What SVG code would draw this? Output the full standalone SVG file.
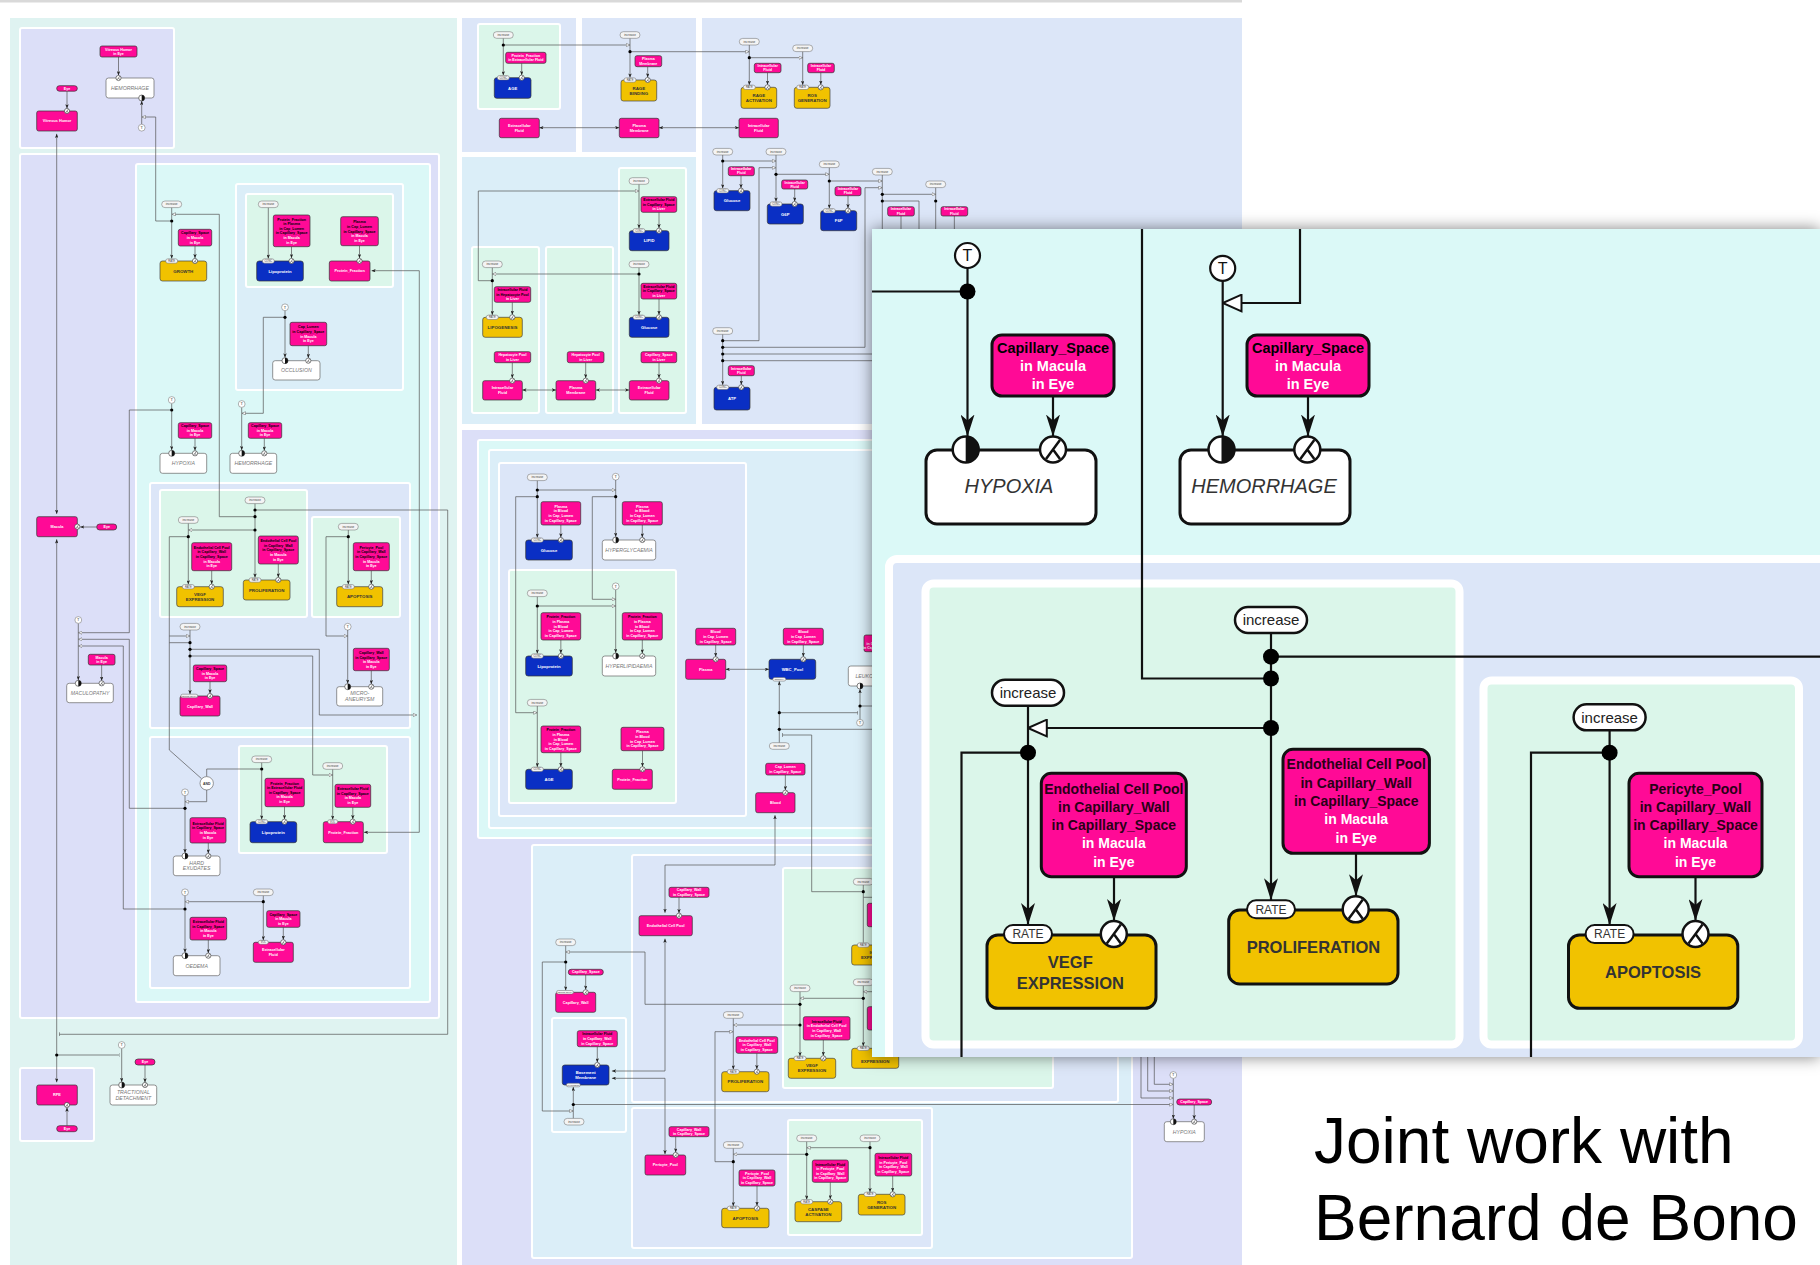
<svg xmlns="http://www.w3.org/2000/svg" width="1820" height="1265" viewBox="0 0 1820 1265">
<defs>
<style>
text{font-family:'Liberation Sans',Arial,Helvetica,sans-serif}
.pn{stroke:#fff;stroke-width:2}
.teal{fill:#dff3f1}.lav{fill:#dcdff8}.blu{fill:#dce6f8}.cya{fill:#dbf8f7}.lbl{fill:#dbeef8}.grn{fill:#dbf6ea}
.pk{fill:#ff0a96;stroke:#333;stroke-width:.7}
.bl{fill:#0a2fc4;stroke:#333;stroke-width:.7}
.gd{fill:#f1c200;stroke:#444;stroke-width:.7}
.wt{fill:#fff;stroke:#666;stroke-width:.7}
.c{fill:none;stroke:#555;stroke-width:.7}
.a{marker-end:url(#a)}.o{marker-end:url(#o)}.b{marker-end:url(#b)}.d{marker-start:url(#a);marker-end:url(#a)}
.tw{font-size:3.6px;font-weight:bold;fill:#fff;text-anchor:middle}
.k{fill:#000}
.tc{font-size:3.8px;font-weight:bold;fill:#fff;text-anchor:middle}
.tb{font-size:4.2px;font-weight:bold;fill:#fff;text-anchor:middle}
.tg{font-size:4.4px;font-weight:bold;fill:#333;text-anchor:middle}
.tp{font-size:5.2px;font-style:italic;fill:#777;text-anchor:middle}
.pl{fill:#f4f4f4;stroke:#666;stroke-width:.5}
.tpl{font-size:3.1px;fill:#444;text-anchor:middle}
.tpr{font-size:2.6px;fill:#444;text-anchor:middle}
.tpq{font-size:2.1px;fill:#444;text-anchor:middle}
.tpt{font-size:4px;fill:#333;text-anchor:middle}
.tand{font-size:3.4px;font-weight:bold;fill:#333;text-anchor:middle}
.il{fill:none;stroke:#111;stroke-width:2.2}
.iA{marker-end:url(#A)}.iO{marker-end:url(#O)}
.ipk{fill:#ff0a96;stroke:#111;stroke-width:3}
.igd{fill:#f1c200;stroke:#111;stroke-width:3}
.iwt{fill:#fff;stroke:#111;stroke-width:3}
.itw{font-size:14.5px;font-weight:bold;fill:#fff;text-anchor:middle}
.itn{font-size:14px;font-weight:bold;fill:#fff;text-anchor:middle}
.ik{fill:#000}
.idk{fill:#2a0016}
.itg{font-size:16.5px;font-weight:bold;fill:#333;text-anchor:middle}
.itph{font-size:20px;font-style:italic;fill:#333;text-anchor:middle}
.itp{font-size:15px;fill:#222;text-anchor:middle}
.itr{font-size:12px;fill:#333;text-anchor:middle}
.itt{font-size:16px;fill:#111;text-anchor:middle}
</style>
<marker id="a" viewBox="0 0 6 5" refX="6" refY="2.5" markerWidth="4.2" markerHeight="3.5" markerUnits="userSpaceOnUse" orient="auto-start-reverse"><path d="M0,0L6,2.5L0,5L1.6,2.5z" fill="#222"/></marker>
<marker id="o" viewBox="0 0 7 7" refX="6.6" refY="3.5" markerWidth="4" markerHeight="4" markerUnits="userSpaceOnUse" orient="auto"><path d="M.5,.6L6.6,3.5L.5,6.4z" fill="#fff" stroke="#555" stroke-width=".8"/></marker>
<marker id="b" viewBox="0 0 2 8" refX="1" refY="4" markerWidth="1" markerHeight="4" markerUnits="userSpaceOnUse" orient="auto"><path d="M1,0V8" stroke="#555" stroke-width="1.2"/></marker>
<marker id="A" viewBox="0 0 22 14" refX="22" refY="7" markerWidth="22" markerHeight="14" markerUnits="userSpaceOnUse" orient="auto"><path d="M0,0L22,7L0,14L6,7z" fill="#111"/></marker>
<marker id="O" viewBox="0 0 21 19" refX="20" refY="9.5" markerWidth="21" markerHeight="19" markerUnits="userSpaceOnUse" orient="auto"><path d="M1.2,1.2L20,9.5L1.2,17.8z" fill="#fff" stroke="#111" stroke-width="2"/></marker>
<g id="xs"><circle r="2.6" fill="#fff" stroke="#333" stroke-width=".6"/><path d="M1.4,-1.9L-1.4,1.9M0,0L1.4,1.9" fill="none" stroke="#333" stroke-width=".55"/></g>
<g id="hs"><circle r="3" fill="#fff" stroke="#333" stroke-width=".6"/><path d="M0,-3A3,3 0 0 1 0,3z" fill="#111"/></g>
<g id="ts"><circle r="3.4" fill="#fff" stroke="#666" stroke-width=".5"/><text y="1.4" class="tpt">T</text></g>
<g id="inc"><rect x="-10" y="-3.3" width="20" height="6.6" rx="3.3" class="pl"/><text y="1.1" class="tpl">increase</text></g>
<g id="rate"><rect x="-6" y="-2.2" width="12" height="4.4" rx="2.2" class="pl"/><text y=".9" class="tpr">RATE</text></g>
<g id="conc"><rect x="-6" y="-2.2" width="12" height="4.4" rx="2.2" class="pl"/><text y=".9" class="tpr">CONC</text></g>
<g id="vol"><rect x="-5" y="-2" width="10" height="4" rx="2" class="pl"/><text y=".9" class="tpr">VOL</text></g>
<g id="perm"><rect x="-8.5" y="-1.8" width="17" height="3.6" rx="1.8" class="pl"/><text y=".8" class="tpq">PERMEABILITY</text></g>
<g id="dens"><rect x="-6.5" y="-1.8" width="13" height="3.6" rx="1.8" class="pl"/><text y=".8" class="tpq">DENSITY</text></g>
<g id="thick"><rect x="-7" y="-1.8" width="14" height="3.6" rx="1.8" class="pl"/><text y=".8" class="tpq">THICKNESS</text></g>
<g id="xl"><circle r="13" fill="#fff" stroke="#111" stroke-width="2.5"/><path d="M7,-9.5L-7,9.5M0,0L7,9.5" fill="none" stroke="#111" stroke-width="2.5"/></g>
<g id="hl"><circle r="13" fill="#fff" stroke="#111" stroke-width="2.5"/><path d="M0,-13A13,13 0 0 1 0,13z" fill="#111"/></g>
<g id="tl"><circle r="12.5" fill="#fff" stroke="#111" stroke-width="2.2"/><text y="5.6" class="itt">T</text></g>
<g id="incl"><rect x="-36" y="-13" width="72" height="26" rx="13" fill="#fff" stroke="#111" stroke-width="2.5"/><text y="5.2" class="itp">increase</text></g>
<g id="ratel"><rect x="-24" y="-9" width="48" height="18" rx="9" fill="#fff" stroke="#111" stroke-width="2"/><text y="4.3" class="itr">RATE</text></g>
<filter id="sh" x="-4%" y="-5%" width="108%" height="110%"><feDropShadow dx="0" dy="0" stdDeviation="8" flood-color="#000" flood-opacity=".5"/></filter>
<clipPath id="ic"><rect x="872" y="229" width="948" height="828"/></clipPath>
</defs>

<rect width="1820" height="1265" fill="#fff"/>
<rect x="0" y="0" width="1242" height="2.5" fill="#d9d9d9"/>

<!-- compartments of the large map -->
<g id="panels" class="pn">
<rect class="teal" x="10" y="18" width="447" height="1250" stroke="none"/>
<rect class="lav" x="20" y="28" width="154" height="120" rx="2"/>
<rect class="lav" x="20" y="154" width="419" height="864" rx="2"/>
<rect class="cya" x="136" y="164" width="294" height="838" rx="2"/>
<rect class="lbl" x="236" y="184" width="167" height="206" rx="2"/>
<rect class="grn" x="246" y="194" width="147" height="93" rx="2"/>
<rect class="blu" x="150" y="483" width="260" height="245" rx="2"/>
<rect class="grn" x="160" y="490" width="147" height="127" rx="2"/>
<rect class="grn" x="312" y="517" width="88" height="100" rx="2"/>
<rect class="blu" x="150" y="737" width="260" height="251" rx="2"/>
<rect class="grn" x="239" y="746" width="148" height="107" rx="2"/>
<rect class="lav" x="20" y="1068" width="74" height="73" rx="2"/>
<rect class="blu" x="462" y="18" width="114" height="134" stroke="none"/>
<rect class="grn" x="478" y="24" width="82" height="85" rx="2"/>
<rect class="blu" x="582" y="18" width="114" height="134" stroke="none"/>
<rect class="blu" x="702" y="18" width="540" height="406" stroke="none"/>
<rect class="lbl" x="462" y="157" width="234" height="267" stroke="none"/>
<rect class="grn" x="472" y="247" width="67" height="166" rx="2"/>
<rect class="grn" x="546" y="247" width="67" height="166" rx="2"/>
<rect class="grn" x="619" y="168" width="67" height="245" rx="2"/>
<rect class="lav" x="462" y="430" width="780" height="838" stroke="none"/>
<rect class="cya" x="478" y="440" width="754" height="398" rx="2"/>
<rect class="lbl" x="489" y="450" width="733" height="378" rx="2"/>
<rect class="blu" x="499" y="463" width="247" height="353" rx="2"/>
<rect class="grn" x="509" y="570" width="167" height="233" rx="2"/>
<rect class="lbl" x="532" y="845" width="600" height="413" rx="2"/>
<rect class="blu" x="632" y="855" width="486" height="247" rx="2"/>
<rect class="grn" x="783" y="868" width="270" height="220" rx="2"/>
<rect class="blu" x="632" y="1108" width="300" height="140" rx="2"/>
<rect class="grn" x="788" y="1120" width="134" height="115" rx="2"/>
<rect class="lbl" x="552" y="1018" width="74" height="114" rx="2"/>
</g>

<g id="connectors">
<path class="c a" d="M67,91.2V108.4"/>
<path class="c a" d="M118.5,57V75.4"/>
<path class="c a" d="M141.7,124.1V101"/>
<path class="c o" d="M171.7,221H155.7V117H142"/>
<path class="c d" d="M56.7,133.8V513.9"/>
<path class="c d" d="M56.7,539.3V1082.3"/>
<path class="c b" d="M56.7,1055H119"/>
<path class="c a" d="M96.7,527H80.2"/>
<path class="c a" d="M171.7,207.6V258.6"/>
<path class="c o" d="M255,516.7H219.3V214.3H172"/>
<path class="c a" d="M195,246V258.2"/>
<path class="c a" d="M268.3,207.6V258.6"/>
<path class="c a" d="M291.5,246.7V258.2"/>
<path class="c a" d="M359.5,245.7V258.2"/>
<path class="c d" d="M371.5,270.7H419.3V832.3H364"/>
<path class="c a" d="M285,310.7V357.5"/>
<path class="c o" d="M285,317.3H263.3V413.3H242"/>
<path class="c a" d="M308.3,345.7V357.9"/>
<path class="c a" d="M171.7,403.4V450.1"/>
<path class="c o" d="M171.7,410H129.3V632.7H78.6"/>
<path class="c a" d="M195,438.3V450.6"/>
<path class="c a" d="M241.7,407.4V450.1"/>
<path class="c a" d="M264.3,438.3V450.6"/>
<path class="c a" d="M255,503.6V577.6"/>
<path class="c b" d="M255,510H447.7V1034.3H59.5"/>
<path class="c o" d="M255,530H188.6"/>
<path class="c a" d="M188.3,523.3V584.3"/>
<path class="c" d="M188.3,536.7H169.3V750L201.7,778.8"/>
<path class="c o" d="M169.3,636H189.8"/>
<path class="c" d="M169.3,642.7H190"/>
<path class="c a" d="M211.7,570.7V584.1"/>
<path class="c a" d="M278.3,564V577.4"/>
<path class="c a" d="M348.3,530V584.3"/>
<path class="c o" d="M348.3,536.7H326V636H347.5"/>
<path class="c a" d="M371.3,570.7V584.1"/>
<path class="c a" d="M190,630V694.2"/>
<path class="c o" d="M190,649.3H319.3V715H416.7"/>
<path class="c o" d="M190,656H312.7V775H332.5"/>
<path class="c a" d="M210,681.7V693.4"/>
<path class="c a" d="M347.7,630V683.6"/>
<path class="c a" d="M371.3,670.7V684.1"/>
<path class="c a" d="M78.3,623.3V680.2"/>
<path class="c o" d="M185,808.3H129.3V639.3H78.6"/>
<path class="c o" d="M185,909H123.3V646H78.6"/>
<path class="c a" d="M101.65,665V680.7"/>
<path class="c" d="M206.7,776.6V769H261.7"/>
<path class="c o" d="M206.7,790V801.7H185.2"/>
<path class="c a" d="M261.7,762.6V819.4"/>
<path class="c a" d="M284.5,806.7V819.1"/>
<path class="c a" d="M332.7,769.3V819.6"/>
<path class="c a" d="M352.8,807.3V819.1"/>
<path class="c a" d="M185,795.6V852.9"/>
<path class="c a" d="M208.3,843V853.4"/>
<path class="c a" d="M185,895.6V952.6"/>
<path class="c o" d="M263.3,901.7H185.2"/>
<path class="c a" d="M263.3,895.6V940.2"/>
<path class="c a" d="M208.3,940V953.1"/>
<path class="c a" d="M283.3,927.3V939.7"/>
<path class="c a" d="M121.7,1048.3V1081.9"/>
<path class="c a" d="M145,1065V1082.4"/>
<path class="c a" d="M67,1125.7V1107.6"/>
<path class="c a" d="M503.3,38.3V75.3"/>
<path class="c o" d="M503.3,45H629.8"/>
<path class="c a" d="M521.7,63.3V75.1"/>
<path class="c a" d="M630,38.3V77.6"/>
<path class="c o" d="M630,51.7H749.1"/>
<path class="c a" d="M647.7,66.7V77.4"/>
<path class="c d" d="M539.3,127.7H619.3"/>
<path class="c d" d="M659,127.7H739"/>
<path class="c a" d="M749.3,45V84.9"/>
<path class="c o" d="M749.3,57.7H802.5"/>
<path class="c a" d="M767.5,72.7V84.7"/>
<path class="c a" d="M802.7,51.6V84.9"/>
<path class="c a" d="M820.8,72.7V84.7"/>
<path class="c a" d="M639,184.3V228.3"/>
<path class="c o" d="M492.3,280.7H478.3V191H638.8"/>
<path class="c a" d="M659,212.3V228.1"/>
<path class="c a" d="M639,267.6V314.9"/>
<path class="c o" d="M639,274H492.5"/>
<path class="c a" d="M492.3,267.6V314.9"/>
<path class="c a" d="M659,299V314.7"/>
<path class="c a" d="M512.3,302.3V314.7"/>
<path class="c a" d="M512.3,362.7V378.1"/>
<path class="c a" d="M585.7,362.7V378.1"/>
<path class="c a" d="M659,362.7V378.1"/>
<path class="c d" d="M522.3,390H556"/>
<path class="c d" d="M595.7,390H629.3"/>
<path class="c a" d="M722.7,155V188.3"/>
<path class="c o" d="M722.7,161H775.8"/>
<path class="c a" d="M741,175.7V188.1"/>
<path class="c a" d="M776,155V201.6"/>
<path class="c o" d="M722.7,340.7H759V167.7H775.8"/>
<path class="c o" d="M776,174.3H829.1"/>
<path class="c a" d="M794.7,189V201.4"/>
<path class="c a" d="M829.3,167.6V208.3"/>
<path class="c o" d="M829.3,181H882.1"/>
<path class="c a" d="M848,195.7V208.1"/>
<path class="c o" d="M722.7,347.3H865V187.7H882.1"/>
<path class="c" d="M882.3,175V235"/>
<path class="c o" d="M882.3,194.3H935.5"/>
<path class="c" d="M882.3,201H919V235"/>
<path class="c" d="M935.7,187.6V235M901,216V235M954.35,216V235"/>
<path class="c a" d="M722.7,334.3V384.9"/>
<path class="c" d="M722.7,354H880M722.7,360.7H880"/>
<path class="c a" d="M741.3,375.7V384.7"/>
<path class="c a" d="M537.3,480.6V537.6"/>
<path class="c o" d="M537.3,490H615.5"/>
<path class="c o" d="M537.3,496.7H515.7V712.7H537.1"/>
<path class="c a" d="M560.85,525V537.4"/>
<path class="c a" d="M615.7,480V536.8"/>
<path class="c o" d="M615.7,496.7H592.3V599.3H615.5"/>
<path class="c a" d="M642.3,525V537.4"/>
<path class="c a" d="M537.3,596.6V653.6"/>
<path class="c o" d="M537.3,606H615.5"/>
<path class="c a" d="M615.7,589.6V652.8"/>
<path class="c a" d="M560.85,640V653.4"/>
<path class="c a" d="M642.3,640V653.4"/>
<path class="c a" d="M537.3,706V766.9"/>
<path class="c a" d="M560.85,752.7V766.7"/>
<path class="c a" d="M642.5,750.7V766.7"/>
<path class="c a" d="M715.7,645V656.7"/>
<path class="c d" d="M725.7,669.3H769"/>
<path class="c a" d="M803.3,645V656.7"/>
<path class="c a" d="M779.3,742.7V681.3"/>
<path class="c b" d="M779.3,712.7H857.7"/>
<path class="c" d="M779.3,729.3H880"/>
<path class="c b" d="M863.3,891.7H811.7V735H782.5"/>
<path class="c a" d="M860,719.4V689.2"/>
<path class="c" d="M860,706H880"/>
<path class="c a" d="M785.35,775V790.1"/>
<path class="c d" d="M775,815.2V865H665V912.8"/>
<path class="c a" d="M679,897.3V913.1"/>
<path class="c d" d="M611.9,1071H665V938.6"/>
<path class="c a" d="M565.7,945.6V990.4"/>
<path class="c o" d="M800,1004.3H645V952H565.9"/>
<path class="c o" d="M565.7,962H542.3V1111H573.1"/>
<path class="c a" d="M585.7,975V989.6"/>
<path class="c a" d="M597.3,1046.7V1062.3"/>
<path class="c a" d="M573.3,1118.4V1087"/>
<path class="c o" d="M573.3,1104.5H1173.1"/>
<path class="c d" d="M611.9,1078.3H665V1154.2"/>
<path class="c a" d="M675.7,1136.7V1152.3"/>
<path class="c a" d="M733.3,1018.3V1069.4"/>
<path class="c o" d="M800,1025H733.5"/>
<path class="c o" d="M733.3,1161.7H715V1031.7H733.1"/>
<path class="c a" d="M756.85,1053.3V1069.1"/>
<path class="c a" d="M800,991.6V1056.1"/>
<path class="c o" d="M863.3,998.3H800.2"/>
<path class="c a" d="M823.3,1040V1055.7"/>
<path class="c a" d="M863.3,885V942.8M863.3,985.6V1046.1"/>
<path class="c o" d="M880,897.3H863.5M880,991.7H863.5"/>
<path class="c a" d="M733.3,1148.3V1206.1"/>
<path class="c o" d="M806.7,1154.3H733.5"/>
<path class="c a" d="M757,1186V1205.7"/>
<path class="c a" d="M806.7,1141.6V1199.5"/>
<path class="c o" d="M870,1147.7H806.9"/>
<path class="c a" d="M830.3,1182.3V1199.1"/>
<path class="c a" d="M870,1141.6V1192.1"/>
<path class="c a" d="M892.7,1176V1191.7"/>
<path class="c a" d="M1173.3,1078.3V1118.7"/>
<path class="c o" d="M1154.3,1050V1084.3H1173.1"/>
<path class="c o" d="M1147.7,1050V1091H1173.1"/>
<path class="c o" d="M1141,1050V1098H1173.1"/>
<path class="c a" d="M1194.2,1105V1119.1"/>
</g>

<!-- junction points -->
<g id="junctions" fill="#000">
<circle cx="171.7" cy="221" r="1.6"/><circle cx="255" cy="510" r="1.6"/><circle cx="255" cy="516.7" r="1.6"/><circle cx="255" cy="530" r="1.6"/>
<circle cx="188.3" cy="536.7" r="1.6"/><circle cx="348.3" cy="536.7" r="1.6"/><circle cx="190" cy="642.7" r="1.6"/><circle cx="190" cy="649.3" r="1.6"/>
<circle cx="190" cy="656" r="1.6"/><circle cx="285" cy="317.3" r="1.6"/><circle cx="171.7" cy="410" r="1.6"/><circle cx="261.7" cy="769" r="1.6"/>
<circle cx="185" cy="808.3" r="1.6"/><circle cx="185" cy="909" r="1.6"/><circle cx="263.3" cy="901.7" r="1.6"/><circle cx="56.7" cy="1055" r="1.6"/>
<circle cx="503.3" cy="45" r="1.6"/><circle cx="630" cy="51.7" r="1.6"/><circle cx="749.3" cy="57.7" r="1.6"/><circle cx="639" cy="274" r="1.6"/>
<circle cx="492.3" cy="280.7" r="1.6"/><circle cx="722.7" cy="161" r="1.6"/><circle cx="776" cy="174.3" r="1.6"/><circle cx="829.3" cy="181" r="1.6"/>
<circle cx="882.3" cy="194.3" r="1.6"/><circle cx="882.3" cy="201" r="1.6"/><circle cx="935.7" cy="201" r="1.6"/><circle cx="722.7" cy="340.7" r="1.6"/>
<circle cx="722.7" cy="347.3" r="1.6"/><circle cx="722.7" cy="354" r="1.6"/><circle cx="722.7" cy="360.7" r="1.6"/><circle cx="537.3" cy="490" r="1.6"/>
<circle cx="537.3" cy="496.7" r="1.6"/><circle cx="615.7" cy="496.7" r="1.6"/><circle cx="537.3" cy="606" r="1.6"/><circle cx="779.3" cy="712.7" r="1.6"/>
<circle cx="779.3" cy="729.3" r="1.6"/><circle cx="860" cy="706" r="1.6"/><circle cx="565.7" cy="962" r="1.6"/><circle cx="573.3" cy="1104.5" r="1.6"/>
<circle cx="800" cy="1004.3" r="1.6"/><circle cx="800" cy="1025" r="1.6"/><circle cx="863.3" cy="891.7" r="1.6"/><circle cx="863.3" cy="998.3" r="1.6"/>
<circle cx="733.3" cy="1161.7" r="1.6"/><circle cx="806.7" cy="1154.3" r="1.6"/><circle cx="870" cy="1147.7" r="1.6"/>
</g>

<!-- modulator tags -->
<g id="modifiers">
<use id="t1" href="#ts" x="141.7" y="127.7"/><use id="t2" href="#ts" x="285" y="307.3"/><use id="t3" href="#ts" x="171.7" y="400"/><use id="t4" href="#ts" x="241.7" y="404"/>
<use id="t5" href="#ts" x="347.7" y="626.7"/><use id="t6" href="#ts" x="78.3" y="620"/><use id="t7" href="#ts" x="185" y="792.3"/><use id="t8" href="#ts" x="185" y="892.3"/>
<use id="t9" href="#ts" x="121.7" y="1045"/><use id="t10" href="#ts" x="615.7" y="476.7"/><use id="t11" href="#ts" x="615.7" y="586.3"/><use id="t12" href="#ts" x="860" y="722.7"/>
<use id="t13" href="#ts" x="1173.3" y="1075"/>
<use id="i1" href="#inc" x="171.7" y="204.3"/><use id="i2" href="#inc" x="268.3" y="204.3"/><use id="i3" href="#inc" x="255" y="500.3"/><use id="i4" href="#inc" x="188.3" y="520"/>
<use id="i5" href="#inc" x="348.3" y="526.7"/><use id="i6" href="#inc" x="190" y="626.7"/><use id="i7" href="#inc" x="261.7" y="759.3"/><use id="i8" href="#inc" x="332.7" y="766"/>
<use id="i9" href="#inc" x="263.3" y="892.3"/><use id="i10" href="#inc" x="503.3" y="35"/><use id="i11" href="#inc" x="630" y="35"/><use id="i12" href="#inc" x="749.3" y="41.7"/>
<use id="i13" href="#inc" x="802.7" y="48.3"/><use id="i14" href="#inc" x="639" y="181"/><use id="i15" href="#inc" x="639" y="264.3"/><use id="i16" href="#inc" x="492.3" y="264.3"/>
<use id="i17" href="#inc" x="722.7" y="151.7"/><use id="i18" href="#inc" x="776" y="151.7"/><use id="i19" href="#inc" x="829.3" y="164.3"/><use id="i20" href="#inc" x="882.3" y="171.7"/>
<use id="i21" href="#inc" x="935.7" y="184.3"/><use id="i22" href="#inc" x="722.7" y="331"/><use id="i23" href="#inc" x="537.3" y="477.3"/><use id="i24" href="#inc" x="537.3" y="593.3"/>
<use id="i25" href="#inc" x="537.3" y="702.7"/><use id="i26" href="#inc" x="779.3" y="746"/><use id="i27" href="#inc" x="565.7" y="942.3"/><use id="i28" href="#inc" x="574" y="1121.7"/>
<use id="i29" href="#inc" x="733.3" y="1015"/><use id="i30" href="#inc" x="800" y="988.3"/><use id="i31" href="#inc" x="863.3" y="881.7"/><use id="i32" href="#inc" x="863.3" y="982.3"/>
<use id="i33" href="#inc" x="733.3" y="1145"/><use id="i34" href="#inc" x="806.7" y="1138.3"/><use id="i35" href="#inc" x="870" y="1138.3"/>
<g id="n-and"><circle cx="206.7" cy="783.3" r="6.7" fill="#fff" stroke="#555" stroke-width=".6"/><text class="tand" x="206.7" y="784.6">AND</text></g>
</g>

<!-- eye / vitreous -->
<g id="n-vitreous-eye"><rect class="pk" x="100" y="46" width="37" height="11" rx="2"/><text class="tw" x="118.5" y="50.5">Vitreous Humor<tspan x="118.5" dy="4.6">in Eye</tspan></text></g>
<g id="n-hemorrhage-vh"><rect class="wt" x="106" y="78" width="48" height="20" rx="2.5"/><text class="tp" x="130" y="89.8">HEMORRHAGE</text><use href="#xs" x="118.5" y="78"/><use href="#hs" x="141.7" y="98"/></g>
<g id="n-eye-1"><rect class="pk" x="56.7" y="85.7" width="20.6" height="5.5" rx="2.7"/><text class="tw" x="67" y="89.6">Eye</text></g>
<g id="n-vitreous"><rect class="pk" x="36.7" y="111" width="40.6" height="20" rx="2"/><text class="tc" x="57" y="122.3">Vitreous Humor</text><use href="#xs" x="67" y="111"/></g>
<g id="n-growth"><rect class="gd" x="160" y="261" width="46.7" height="20" rx="2.5"/><text class="tg" x="183.3" y="272.5">GROWTH</text><use href="#rate" x="171.7" y="261"/><use href="#xs" x="195" y="261"/></g>
<g id="n-cs-1"><rect class="pk" x="178.3" y="229.3" width="33.4" height="16.7" rx="2"/><text class="tw" x="195" y="234.3"><tspan class="k">Capillary_Space</tspan><tspan x="195" dy="4.6">in Macula</tspan><tspan x="195" dy="4.6">in Eye</tspan></text></g>
<g id="n-pf-plasma"><rect class="pk" x="273.3" y="215" width="36.7" height="31.7" rx="2"/><text class="tw" x="291.65" y="220.6"><tspan class="k">Protein_Fraction</tspan><tspan class="k" x="291.65" dy="4.6">in Plasma</tspan><tspan class="k" x="291.65" dy="4.6">in Cap_Lumen</tspan><tspan class="k" x="291.65" dy="4.6">in Capillary_Space</tspan><tspan x="291.65" dy="4.6">in Macula</tspan><tspan x="291.65" dy="4.6">in Eye</tspan></text></g>
<g id="n-lipoprotein-1"><rect class="bl" x="256.7" y="261" width="46.6" height="20" rx="2.5"/><text class="tb" x="280" y="272.5">Lipoprotein</text><use href="#conc" x="268.3" y="261"/><use href="#xs" x="291.5" y="261"/></g>
<g id="n-plasma-mac"><rect class="pk" x="340.7" y="216.7" width="37.6" height="29" rx="2"/><text class="tw" x="359.5" y="223.3"><tspan class="k">Plasma</tspan><tspan class="k" x="359.5" dy="4.6">in Cap_Lumen</tspan><tspan class="k" x="359.5" dy="4.6">in Capillary_Space</tspan><tspan x="359.5" dy="4.6">in Macula</tspan><tspan x="359.5" dy="4.6">in Eye</tspan></text></g>
<g id="n-pf-1"><rect class="pk" x="329.3" y="261" width="40.7" height="20" rx="2"/><text class="tc" x="349.65" y="272.3">Protein_Fraction</text><use href="#xs" x="359.5" y="261"/></g>
<g id="n-caplumen"><rect class="pk" x="290" y="322.3" width="36.7" height="23.4" rx="2"/><text class="tw" x="308.35" y="328.4"><tspan class="k">Cap_Lumen</tspan><tspan class="k" x="308.35" dy="4.6">in Capillary_Space</tspan><tspan x="308.35" dy="4.6">in Macula</tspan><tspan x="308.35" dy="4.6">in Eye</tspan></text></g>
<g id="n-occlusion"><rect class="wt" x="272.7" y="360.7" width="47.3" height="19.3" rx="2.5"/><text class="tp" x="296.35" y="372.2">OCCLUSION</text><use href="#hs" x="285" y="360.7"/><use href="#xs" x="308.3" y="360.7"/></g>
<g id="n-cs-2"><rect class="pk" x="178.3" y="422.7" width="33.4" height="15.6" rx="2"/><text class="tw" x="195" y="427.2"><tspan class="k">Capillary_Space</tspan><tspan x="195" dy="4.6">in Macula</tspan><tspan x="195" dy="4.6">in Eye</tspan></text></g>
<g id="n-hypoxia"><rect class="wt" x="160" y="453.3" width="46.7" height="20" rx="2.5"/><text class="tp" x="183.35" y="465.1">HYPOXIA</text><use href="#hs" x="171.7" y="453.3"/><use href="#xs" x="195" y="453.3"/></g>
<g id="n-cs-3"><rect class="pk" x="248.3" y="422.7" width="33.4" height="15.6" rx="2"/><text class="tw" x="265" y="427.2"><tspan class="k">Capillary_Space</tspan><tspan x="265" dy="4.6">in Macula</tspan><tspan x="265" dy="4.6">in Eye</tspan></text></g>
<g id="n-hemorrhage"><rect class="wt" x="230" y="453.3" width="46.7" height="20" rx="2.5"/><text class="tp" x="253.35" y="465.1">HEMORRHAGE</text><use href="#hs" x="241.7" y="453.3"/><use href="#xs" x="264.3" y="453.3"/></g>
<g id="n-macula"><rect class="pk" x="36.7" y="516.7" width="40.6" height="20" rx="2"/><text class="tc" x="57" y="528">Macula</text><use href="#xs" x="77.3" y="526.7"/></g>
<g id="n-eye-2"><rect class="pk" x="96.7" y="524" width="20" height="6" rx="3"/><text class="tw" x="106.7" y="528.1">Eye</text></g>
<g id="n-endo-1"><rect class="pk" x="191.7" y="542.7" width="40" height="28" rx="2"/><text class="tw" x="211.7" y="548.8"><tspan class="k">Endothelial Cell Pool</tspan><tspan class="k" x="211.7" dy="4.6">in Capillary_Wall</tspan><tspan class="k" x="211.7" dy="4.6">in Capillary_Space</tspan><tspan x="211.7" dy="4.6">in Macula</tspan><tspan x="211.7" dy="4.6">in Eye</tspan></text></g>
<g id="n-vegf-1"><rect class="gd" x="176.7" y="586.7" width="46.6" height="20" rx="2.5"/><text class="tg" x="200" y="595.7">VEGF<tspan x="200" dy="5">EXPRESSION</tspan></text><use href="#rate" x="188.3" y="586.7"/><use href="#xs" x="211.7" y="586.7"/></g>
<g id="n-endo-2"><rect class="pk" x="258.3" y="536" width="40" height="28" rx="2"/><text class="tw" x="278.3" y="542.1"><tspan class="k">Endothelial Cell Pool</tspan><tspan class="k" x="278.3" dy="4.6">in Capillary_Wall</tspan><tspan class="k" x="278.3" dy="4.6">in Capillary_Space</tspan><tspan x="278.3" dy="4.6">in Macula</tspan><tspan x="278.3" dy="4.6">in Eye</tspan></text></g>
<g id="n-prolif-1"><rect class="gd" x="243.3" y="580" width="46.7" height="20" rx="2.5"/><text class="tg" x="266.65" y="591.5">PROLIFERATION</text><use href="#rate" x="255" y="580"/><use href="#xs" x="278.3" y="580"/></g>
<g id="n-pericyte-1"><rect class="pk" x="353.3" y="542.7" width="36" height="28" rx="2"/><text class="tw" x="371.3" y="548.8"><tspan class="k">Pericyte_Pool</tspan><tspan class="k" x="371.3" dy="4.6">in Capillary_Wall</tspan><tspan class="k" x="371.3" dy="4.6">in Capillary_Space</tspan><tspan x="371.3" dy="4.6">in Macula</tspan><tspan x="371.3" dy="4.6">in Eye</tspan></text></g>
<g id="n-apop-1"><rect class="gd" x="336.7" y="586.7" width="46" height="20" rx="2.5"/><text class="tg" x="359.7" y="598.2">APOPTOSIS</text><use href="#rate" x="348.3" y="586.7"/><use href="#xs" x="371.3" y="586.7"/></g>
<g id="n-cs-4"><rect class="pk" x="193.3" y="665" width="33.4" height="16.7" rx="2"/><text class="tw" x="210" y="670"><tspan class="k">Capillary_Space</tspan><tspan x="210" dy="4.6">in Macula</tspan><tspan x="210" dy="4.6">in Eye</tspan></text></g>
<g id="n-capwall-1"><rect class="pk" x="180" y="696" width="40" height="20" rx="2"/><text class="tc" x="200" y="707.5">Capillary_Wall</text><use href="#perm" x="189.3" y="696"/><use href="#xs" x="210" y="696"/></g>
<g id="n-cw-cs"><rect class="pk" x="353.3" y="648.3" width="36" height="22.4" rx="2"/><text class="tw" x="371.3" y="653.9"><tspan class="k">Capillary_Wall</tspan><tspan class="k" x="371.3" dy="4.6">in Capillary_Space</tspan><tspan x="371.3" dy="4.6">in Macula</tspan><tspan x="371.3" dy="4.6">in Eye</tspan></text></g>
<g id="n-microaneurysm"><rect class="wt" x="336.7" y="686.7" width="46" height="19.3" rx="2.5"/><text class="tp" x="359.7" y="695.4">MICRO-<tspan x="359.7" dy="5.5">ANEURYSM</tspan></text><use href="#hs" x="347.7" y="686.7"/><use href="#xs" x="371.3" y="686.7"/></g>
<g id="n-macula-eye"><rect class="pk" x="88.3" y="654.3" width="26.7" height="10.7" rx="2"/><text class="tw" x="101.65" y="658.7">Macula<tspan x="101.65" dy="4.6">in Eye</tspan></text></g>
<g id="n-maculopathy"><rect class="wt" x="66.7" y="683.3" width="46.6" height="19.4" rx="2.5"/><text class="tp" x="90" y="694.8">MACULOPATHY</text><use href="#hs" x="78.3" y="683.3"/><use href="#xs" x="101.65" y="683.3"/></g>
<g id="n-pf-ecf"><rect class="pk" x="265" y="778.3" width="39.3" height="28.4" rx="2"/><text class="tw" x="284.65" y="784.6"><tspan class="k">Protein_Fraction</tspan><tspan class="k" x="284.65" dy="4.6">in Extracellular Fluid</tspan><tspan class="k" x="284.65" dy="4.6">in Capillary_Space</tspan><tspan x="284.65" dy="4.6">in Macula</tspan><tspan x="284.65" dy="4.6">in Eye</tspan></text></g>
<g id="n-lipoprotein-2"><rect class="bl" x="250" y="821.7" width="46.7" height="21" rx="2.5"/><text class="tb" x="273.35" y="833.7">Lipoprotein</text><use href="#conc" x="261.7" y="821.7"/><use href="#xs" x="284.5" y="821.7"/></g>
<g id="n-ecf-cs-1"><rect class="pk" x="335" y="784.3" width="35.7" height="23" rx="2"/><text class="tw" x="352.85" y="790.2"><tspan class="k">Extracellular Fluid</tspan><tspan class="k" x="352.85" dy="4.6">in Capillary_Space</tspan><tspan x="352.85" dy="4.6">in Macula</tspan><tspan x="352.85" dy="4.6">in Eye</tspan></text></g>
<g id="n-pf-2"><rect class="pk" x="323.3" y="821.7" width="40" height="21" rx="2"/><text class="tc" x="343.3" y="834.2">Protein_Fraction</text><use href="#vol" x="332.7" y="821.7"/><use href="#xs" x="352.8" y="821.7"/></g>
<g id="n-ecf-cs-2"><rect class="pk" x="190" y="817.7" width="36" height="25.3" rx="2"/><text class="tw" x="208" y="824.8"><tspan class="k">Extracellular Fluid</tspan><tspan class="k" x="208" dy="4.6">in Capillary_Space</tspan><tspan x="208" dy="4.6">in Macula</tspan><tspan x="208" dy="4.6">in Eye</tspan></text></g>
<g id="n-hard-exudates"><rect class="wt" x="173.3" y="856" width="46.7" height="19.7" rx="2.5"/><text class="tp" x="196.65" y="864.9">HARD<tspan x="196.65" dy="5.5">EXUDATES</tspan></text><use href="#hs" x="185" y="856"/><use href="#xs" x="208.3" y="856"/></g>
<g id="n-ecf-cs-3"><rect class="pk" x="190" y="917.3" width="36.7" height="22.7" rx="2"/><text class="tw" x="208.35" y="923.05"><tspan class="k">Extracellular Fluid</tspan><tspan class="k" x="208.35" dy="4.6">in Capillary_Space</tspan><tspan x="208.35" dy="4.6">in Macula</tspan><tspan x="208.35" dy="4.6">in Eye</tspan></text></g>
<g id="n-oedema"><rect class="wt" x="173.3" y="955.7" width="46.7" height="20" rx="2.5"/><text class="tp" x="196.65" y="967.5">OEDEMA</text><use href="#hs" x="185" y="955.7"/><use href="#xs" x="208.3" y="955.7"/></g>
<g id="n-cs-5"><rect class="pk" x="266.7" y="910.7" width="33.3" height="16.6" rx="2"/><text class="tw" x="283.35" y="915.7"><tspan class="k">Capillary_Space</tspan><tspan x="283.35" dy="4.6">in Macula</tspan><tspan x="283.35" dy="4.6">in Eye</tspan></text></g>
<g id="n-ecf-1"><rect class="pk" x="253.3" y="942.3" width="40" height="20" rx="2"/><text class="tc" x="273.3" y="951.3">Extracellular<tspan x="273.3" dy="4.6">Fluid</tspan></text><use href="#vol" x="263.3" y="942.3"/><use href="#xs" x="283.3" y="942.3"/></g>
<g id="n-eye-3"><rect class="pk" x="135" y="1059" width="20" height="6" rx="3"/><text class="tw" x="145" y="1063.1">Eye</text></g>
<g id="n-tractional"><rect class="wt" x="110" y="1085" width="46.7" height="20" rx="2.5"/><text class="tp" x="133.35" y="1094">TRACTIONAL<tspan x="133.35" dy="5.5">DETACHMENT</tspan></text><use href="#hs" x="121.7" y="1085"/><use href="#xs" x="145" y="1085"/></g>
<g id="n-rpe"><rect class="pk" x="36.7" y="1085" width="40.6" height="20" rx="2"/><text class="tc" x="57" y="1096.3">RPE</text><use href="#xs" x="67" y="1105"/></g>
<g id="n-eye-4"><rect class="pk" x="56.7" y="1125.7" width="20.6" height="6" rx="3"/><text class="tw" x="67" y="1129.8">Eye</text></g>

<!-- cell and liver level -->
<g id="n-pf-ecf-cell"><rect class="pk" x="505.7" y="52.3" width="40.3" height="11" rx="2"/><text class="tw" x="525.85" y="56.8">Protein_Fraction<tspan x="525.85" dy="4.6">in Extracellular Fluid</tspan></text></g>
<g id="n-age-1"><rect class="bl" x="494.3" y="77.7" width="36.7" height="20.6" rx="2.5"/><text class="tb" x="512.65" y="89.5">AGE</text><use href="#conc" x="503.3" y="77.7"/><use href="#xs" x="521.7" y="77.7"/></g>
<g id="n-ecf-cell"><rect class="pk" x="499.3" y="118.3" width="40" height="19.4" rx="2"/><text class="tc" x="519.3" y="127">Extracellular<tspan x="519.3" dy="4.6">Fluid</tspan></text></g>
<g id="n-pm-tag"><rect class="pk" x="635" y="55.7" width="26.7" height="11" rx="2"/><text class="tw" x="648.35" y="60.2">Plasma<tspan x="648.35" dy="4.6">Membrane</tspan></text></g>
<g id="n-rage-binding"><rect class="gd" x="621" y="80" width="35.7" height="21" rx="2.5"/><text class="tg" x="638.85" y="89.5">RAGE<tspan x="638.85" dy="5">BINDING</tspan></text><use href="#rate" x="630" y="80"/><use href="#xs" x="647.7" y="80"/></g>
<g id="n-pm-cell"><rect class="pk" x="619.3" y="118.3" width="39.7" height="19.4" rx="2"/><text class="tc" x="639.15" y="127">Plasma<tspan x="639.15" dy="4.6">Membrane</tspan></text></g>
<g id="n-icf-tag-1"><rect class="pk" x="754.3" y="63.3" width="26.7" height="9.4" rx="2"/><text class="tw" x="767.65" y="67">Intracellular<tspan x="767.65" dy="4.2">Fluid</tspan></text></g>
<g id="n-rage-activation"><rect class="gd" x="741" y="87.3" width="35.7" height="21" rx="2.5"/><text class="tg" x="758.85" y="96.8">RAGE<tspan x="758.85" dy="5">ACTIVATION</tspan></text><use href="#rate" x="749.3" y="87.3"/><use href="#xs" x="767.5" y="87.3"/></g>
<g id="n-icf-tag-2"><rect class="pk" x="807.7" y="63.3" width="26.6" height="9.4" rx="2"/><text class="tw" x="821" y="67">Intracellular<tspan x="821" dy="4.2">Fluid</tspan></text></g>
<g id="n-ros-1"><rect class="gd" x="794.3" y="87.3" width="35.7" height="21" rx="2.5"/><text class="tg" x="812.15" y="96.8">ROS<tspan x="812.15" dy="5">GENERATION</tspan></text><use href="#rate" x="802.7" y="87.3"/><use href="#xs" x="820.8" y="87.3"/></g>
<g id="n-icf-cell"><rect class="pk" x="739" y="118.3" width="39.3" height="19.4" rx="2"/><text class="tc" x="758.65" y="127">Intracellular<tspan x="758.65" dy="4.6">Fluid</tspan></text></g>
<g id="n-ecf-liver-1"><rect class="pk" x="641" y="196.7" width="35.7" height="15.6" rx="2"/><text class="tw" x="658.85" y="201.2"><tspan class="k">Extracellular Fluid</tspan><tspan class="k" x="658.85" dy="4.6">in Capillary_Space</tspan><tspan x="658.85" dy="4.6">in Liver</tspan></text></g>
<g id="n-lipid"><rect class="bl" x="629.3" y="230.7" width="39.7" height="20" rx="2.5"/><text class="tb" x="649.15" y="242.2">LIPID</text><use href="#conc" x="639" y="230.7"/><use href="#xs" x="659" y="230.7"/></g>
<g id="n-ecf-liver-2"><rect class="pk" x="641" y="283.3" width="35.7" height="15.7" rx="2"/><text class="tw" x="658.85" y="287.85"><tspan class="k">Extracellular Fluid</tspan><tspan class="k" x="658.85" dy="4.6">in Capillary_Space</tspan><tspan x="658.85" dy="4.6">in Liver</tspan></text></g>
<g id="n-glucose-liver"><rect class="bl" x="629.3" y="317.3" width="39.7" height="20" rx="2.5"/><text class="tb" x="649.15" y="328.8">Glucose</text><use href="#conc" x="639" y="317.3"/><use href="#xs" x="659" y="317.3"/></g>
<g id="n-icf-hep"><rect class="pk" x="494.3" y="286.7" width="36.4" height="15.6" rx="2"/><text class="tw" x="512.5" y="291.2"><tspan class="k">Intracellular Fluid</tspan><tspan class="k" x="512.5" dy="4.6">in Hepatocyte Pool</tspan><tspan x="512.5" dy="4.6">in Liver</tspan></text></g>
<g id="n-lipogenesis"><rect class="gd" x="482.7" y="317.3" width="39.6" height="20" rx="2.5"/><text class="tg" x="502.5" y="328.8">LIPOGENESIS</text><use href="#rate" x="492.3" y="317.3"/><use href="#xs" x="512.3" y="317.3"/></g>
<g id="n-hep-1"><rect class="pk" x="494.3" y="351.7" width="36.4" height="11" rx="2"/><text class="tw" x="512.5" y="356.2">Hepatocyte Pool<tspan x="512.5" dy="4.6">in Liver</tspan></text></g>
<g id="n-icf-liver"><rect class="pk" x="482.7" y="380.7" width="39.6" height="19.3" rx="2"/><text class="tc" x="502.5" y="389.35">Intracellular<tspan x="502.5" dy="4.6">Fluid</tspan></text><use href="#xs" x="512.3" y="380.7"/></g>
<g id="n-hep-2"><rect class="pk" x="567.3" y="351.7" width="36.7" height="11" rx="2"/><text class="tw" x="585.65" y="356.2">Hepatocyte Pool<tspan x="585.65" dy="4.6">in Liver</tspan></text></g>
<g id="n-pm-liver"><rect class="pk" x="556" y="380.7" width="39.7" height="19.3" rx="2"/><text class="tc" x="575.85" y="389.35">Plasma<tspan x="575.85" dy="4.6">Membrane</tspan></text><use href="#xs" x="585.7" y="380.7"/></g>
<g id="n-cs-liver"><rect class="pk" x="641" y="351.7" width="35.7" height="11" rx="2"/><text class="tw" x="658.85" y="356.2">Capillary_Space<tspan x="658.85" dy="4.6">in Liver</tspan></text></g>
<g id="n-ecf-liver"><rect class="pk" x="629.3" y="380.7" width="39.7" height="19.3" rx="2"/><text class="tc" x="649.15" y="389.35">Extracellular<tspan x="649.15" dy="4.6">Fluid</tspan></text><use href="#xs" x="659" y="380.7"/></g>
<g id="n-icf-tag-3"><rect class="pk" x="728.3" y="166.7" width="26" height="9" rx="2"/><text class="tw" x="741.3" y="170.2">Intracellular<tspan x="741.3" dy="4.2">Fluid</tspan></text></g>
<g id="n-glucose-cell"><rect class="bl" x="714" y="190.7" width="36" height="20" rx="2.5"/><text class="tb" x="732" y="202.2">Glucose</text><use href="#conc" x="722.7" y="190.7"/><use href="#xs" x="741" y="190.7"/></g>
<g id="n-icf-tag-4"><rect class="pk" x="781.7" y="180" width="26" height="9" rx="2"/><text class="tw" x="794.7" y="183.5">Intracellular<tspan x="794.7" dy="4.2">Fluid</tspan></text></g>
<g id="n-g6p"><rect class="bl" x="767.3" y="204" width="36" height="20" rx="2.5"/><text class="tb" x="785.3" y="215.5">G6P</text><use href="#conc" x="776" y="204"/><use href="#xs" x="794.7" y="204"/></g>
<g id="n-icf-tag-5"><rect class="pk" x="835" y="186.7" width="26" height="9" rx="2"/><text class="tw" x="848" y="190.2">Intracellular<tspan x="848" dy="4.2">Fluid</tspan></text></g>
<g id="n-f6p"><rect class="bl" x="820.7" y="210.7" width="36" height="20" rx="2.5"/><text class="tb" x="838.7" y="222.2">F6P</text><use href="#conc" x="829.3" y="210.7"/><use href="#xs" x="848" y="210.7"/></g>
<g id="n-icf-tag-6"><rect class="pk" x="887.7" y="206.7" width="26.6" height="9.3" rx="2"/><text class="tw" x="901" y="210.35">Intracellular<tspan x="901" dy="4.2">Fluid</tspan></text></g>
<g id="n-icf-tag-7"><rect class="pk" x="941" y="206.7" width="26.7" height="9.3" rx="2"/><text class="tw" x="954.35" y="210.35">Intracellular<tspan x="954.35" dy="4.2">Fluid</tspan></text></g>
<g id="n-icf-tag-8"><rect class="pk" x="728.3" y="365.7" width="26" height="10" rx="2"/><text class="tw" x="741.3" y="369.7">Intracellular<tspan x="741.3" dy="4.2">Fluid</tspan></text></g>
<g id="n-atp"><rect class="bl" x="714" y="387.3" width="36" height="22.7" rx="2.5"/><text class="tb" x="732" y="400.15">ATP</text><use href="#conc" x="722.7" y="387.3"/><use href="#xs" x="741.3" y="387.3"/></g>

<!-- blood level -->
<g id="n-plasma-blood-1"><rect class="pk" x="541" y="501.7" width="39.7" height="23.3" rx="2"/><text class="tw" x="560.85" y="507.75">Plasma<tspan x="560.85" dy="4.6">in Blood</tspan><tspan x="560.85" dy="4.6">in Cap_Lumen</tspan><tspan x="560.85" dy="4.6">in Capillary_Space</tspan></text></g>
<g id="n-glucose-blood"><rect class="bl" x="525.7" y="540" width="46.6" height="20" rx="2.5"/><text class="tb" x="549" y="551.5">Glucose</text><use href="#conc" x="537.3" y="540"/><use href="#xs" x="560.85" y="540"/></g>
<g id="n-plasma-blood-2"><rect class="pk" x="622.3" y="501.7" width="40" height="23.3" rx="2"/><text class="tw" x="642.3" y="507.75">Plasma<tspan x="642.3" dy="4.6">in Blood</tspan><tspan x="642.3" dy="4.6">in Cap_Lumen</tspan><tspan x="642.3" dy="4.6">in Capillary_Space</tspan></text></g>
<g id="n-hyperglycaemia"><rect class="wt" x="602.3" y="540" width="53.4" height="20" rx="2.5"/><text class="tp" x="629" y="551.8">HYPERGLYCAEMIA</text><use href="#hs" x="615.7" y="540"/><use href="#xs" x="642.3" y="540"/></g>
<g id="n-pf-blood-1"><rect class="pk" x="541" y="612.7" width="39.7" height="27.3" rx="2"/><text class="tw" x="560.85" y="618.45"><tspan class="k">Protein_Fraction</tspan><tspan x="560.85" dy="4.6">in Plasma</tspan><tspan x="560.85" dy="4.6">in Blood</tspan><tspan x="560.85" dy="4.6">in Cap_Lumen</tspan><tspan x="560.85" dy="4.6">in Capillary_Space</tspan></text></g>
<g id="n-lipoprotein-3"><rect class="bl" x="525.7" y="656" width="46.6" height="20" rx="2.5"/><text class="tb" x="549" y="667.5">Lipoprotein</text><use href="#conc" x="537.3" y="656"/><use href="#xs" x="560.85" y="656"/></g>
<g id="n-pf-blood-2"><rect class="pk" x="622.3" y="612.7" width="40" height="27.3" rx="2"/><text class="tw" x="642.3" y="618.45"><tspan class="k">Protein_Fraction</tspan><tspan x="642.3" dy="4.6">in Plasma</tspan><tspan x="642.3" dy="4.6">in Blood</tspan><tspan x="642.3" dy="4.6">in Cap_Lumen</tspan><tspan x="642.3" dy="4.6">in Capillary_Space</tspan></text></g>
<g id="n-hyperlipidaemia"><rect class="wt" x="602.3" y="656" width="53.4" height="20" rx="2.5"/><text class="tp" x="629" y="667.8">HYPERLIPIDAEMIA</text><use href="#hs" x="615.7" y="656"/><use href="#xs" x="642.3" y="656"/></g>
<g id="n-pf-blood-3"><rect class="pk" x="541" y="726" width="39.7" height="26.7" rx="2"/><text class="tw" x="560.85" y="731.45"><tspan class="k">Protein_Fraction</tspan><tspan x="560.85" dy="4.6">in Plasma</tspan><tspan x="560.85" dy="4.6">in Blood</tspan><tspan x="560.85" dy="4.6">in Cap_Lumen</tspan><tspan x="560.85" dy="4.6">in Capillary_Space</tspan></text></g>
<g id="n-age-2"><rect class="bl" x="525.7" y="769.3" width="46.6" height="20" rx="2.5"/><text class="tb" x="549" y="780.8">AGE</text><use href="#conc" x="537.3" y="769.3"/><use href="#xs" x="560.85" y="769.3"/></g>
<g id="n-plasma-blood-3"><rect class="pk" x="621" y="727.3" width="43" height="23.4" rx="2"/><text class="tw" x="642.5" y="733.4">Plasma<tspan x="642.5" dy="4.6">in Blood</tspan><tspan x="642.5" dy="4.6">in Cap_Lumen</tspan><tspan x="642.5" dy="4.6">in Capillary_Space</tspan></text></g>
<g id="n-pf-3"><rect class="pk" x="612.3" y="769.3" width="40" height="20" rx="2"/><text class="tc" x="632.3" y="780.6">Protein_Fraction</text><use href="#xs" x="642.5" y="769.3"/></g>
<g id="n-blood-tag-1"><rect class="pk" x="695.7" y="628.3" width="40" height="16.7" rx="2"/><text class="tw" x="715.7" y="633.35">Blood<tspan x="715.7" dy="4.6">in Cap_Lumen</tspan><tspan x="715.7" dy="4.6">in Capillary_Space</tspan></text></g>
<g id="n-plasma"><rect class="pk" x="685.7" y="659.3" width="40" height="20" rx="2"/><text class="tc" x="705.7" y="670.6">Plasma</text><use href="#xs" x="715.7" y="659.3"/></g>
<g id="n-blood-tag-2"><rect class="pk" x="783.3" y="628.3" width="40" height="16.7" rx="2"/><text class="tw" x="803.3" y="633.35">Blood<tspan x="803.3" dy="4.6">in Cap_Lumen</tspan><tspan x="803.3" dy="4.6">in Capillary_Space</tspan></text></g>
<g id="n-wbc"><rect class="bl" x="769" y="659.3" width="46.7" height="20" rx="2.5"/><text class="tb" x="792.35" y="670.8">WBC_Pool</text><use href="#dens" x="779.3" y="679.3"/><use href="#xs" x="803.3" y="659.3"/></g>
<g id="n-leukostasis"><rect class="wt" x="848.3" y="666" width="50" height="20" rx="2.5"/><text class="tp" x="873.3" y="677.8">LEUKOSTASIS</text><use href="#hs" x="860" y="686"/></g>
<g id="n-blood-tag-3"><rect class="pk" x="864" y="635" width="30" height="16.7" rx="2"/><text class="tw" x="879" y="640">Blood<tspan x="879" dy="4.6">in Cap_Lumen</tspan><tspan x="879" dy="4.6">in Capillary_Space</tspan></text></g>
<g id="n-cl-cs"><rect class="pk" x="765.7" y="763.3" width="39.3" height="11.7" rx="2"/><text class="tw" x="785.35" y="768.15">Cap_Lumen<tspan x="785.35" dy="4.6">in Capillary_Space</tspan></text></g>
<g id="n-blood"><rect class="pk" x="755.7" y="792.7" width="39.3" height="20" rx="2"/><text class="tc" x="775.35" y="804">Blood</text><use href="#xs" x="785.35" y="792.7"/></g>

<!-- capillary wall level -->
<g id="n-cw-cs-1"><rect class="pk" x="669" y="887.3" width="40" height="10" rx="2"/><text class="tw" x="689" y="891.3">Capillary_Wall<tspan x="689" dy="4.2">in Capillary_Space</tspan></text></g>
<g id="n-ecp"><rect class="pk" x="639" y="915.7" width="53.3" height="20" rx="2"/><text class="tc" x="665.65" y="927">Endothelial Cell Pool</text><use href="#xs" x="679" y="915.7"/></g>
<g id="n-cs-6"><rect class="pk" x="568.3" y="969.3" width="35" height="5.7" rx="2.8"/><text class="tw" x="585.8" y="973.4">Capillary_Space</text></g>
<g id="n-capwall-2"><rect class="pk" x="555.7" y="992.3" width="40" height="20" rx="2"/><text class="tc" x="575.7" y="1003.6">Capillary_Wall</text><use href="#perm" x="565" y="992.3"/><use href="#xs" x="585.7" y="992.3"/></g>
<g id="n-icf-cw"><rect class="pk" x="577.3" y="1030.7" width="40" height="16" rx="2"/><text class="tw" x="597.3" y="1035.4"><tspan class="k">Intracellular Fluid</tspan><tspan x="597.3" dy="4.6">in Capillary_Wall</tspan><tspan x="597.3" dy="4.6">in Capillary_Space</tspan></text></g>
<g id="n-basement"><rect class="bl" x="562.3" y="1065" width="46.7" height="20" rx="2.5"/><text class="tb" x="585.65" y="1074.2">Basement<tspan x="585.65" dy="4.6">Membrane</tspan></text><use href="#thick" x="573.3" y="1085"/><use href="#xs" x="597.3" y="1065"/></g>
<g id="n-cw-cs-2"><rect class="pk" x="669" y="1126.7" width="40" height="10" rx="2"/><text class="tw" x="689" y="1130.7">Capillary_Wall<tspan x="689" dy="4.2">in Capillary_Space</tspan></text></g>
<g id="n-pericyte-pool"><rect class="pk" x="645" y="1155" width="40.7" height="20" rx="2"/><text class="tc" x="665.35" y="1166.3">Pericyte_Pool</text><use href="#xs" x="675.7" y="1155"/></g>
<g id="n-ecp-cw"><rect class="pk" x="736" y="1036.7" width="41.7" height="16.6" rx="2"/><text class="tw" x="756.85" y="1041.7">Endothelial Cell Pool<tspan x="756.85" dy="4.6">in Capillary_Wall</tspan><tspan x="756.85" dy="4.6">in Capillary_Space</tspan></text></g>
<g id="n-prolif-2"><rect class="gd" x="721.7" y="1071.7" width="47.3" height="20" rx="2.5"/><text class="tg" x="745.35" y="1083.2">PROLIFERATION</text><use href="#rate" x="733.3" y="1071.7"/><use href="#xs" x="756.85" y="1071.7"/></g>
<g id="n-icf-ecp"><rect class="pk" x="803.3" y="1016.7" width="46.7" height="23.3" rx="2"/><text class="tw" x="826.65" y="1022.75"><tspan class="k">Intracellular Fluid</tspan><tspan x="826.65" dy="4.6">in Endothelial Cell Pool</tspan><tspan x="826.65" dy="4.6">in Capillary_Wall</tspan><tspan x="826.65" dy="4.6">in Capillary_Space</tspan></text></g>
<g id="n-vegf-2"><rect class="gd" x="788.3" y="1058.3" width="47.4" height="20" rx="2.5"/><text class="tg" x="812" y="1067.3">VEGF<tspan x="812" dy="5">EXPRESSION</tspan></text><use href="#rate" x="800" y="1058.3"/><use href="#xs" x="823.3" y="1058.3"/></g>
<g id="n-tag-hidden-1"><rect class="pk" x="867.3" y="903.3" width="46.7" height="23.4" rx="2"/></g>
<g id="n-icam"><rect class="gd" x="851.7" y="945" width="47" height="20" rx="2.5"/><text class="tg" x="875.2" y="954">ICAM<tspan x="875.2" dy="5">EXPRESSION</tspan></text><use href="#rate" x="863.3" y="945"/></g>
<g id="n-tag-hidden-2"><rect class="pk" x="867.3" y="1006.7" width="46.7" height="23.3" rx="2"/></g>
<g id="n-expression-3"><rect class="gd" x="851.7" y="1048.3" width="47" height="20" rx="2.5"/><text class="tg" x="875.2" y="1063">EXPRESSION</text><use href="#rate" x="863.3" y="1048.3"/></g>
<g id="n-pericyte-cw"><rect class="pk" x="739" y="1170" width="36" height="16" rx="2"/><text class="tw" x="757" y="1174.7">Pericyte_Pool<tspan x="757" dy="4.6">in Capillary_Wall</tspan><tspan x="757" dy="4.6">in Capillary_Space</tspan></text></g>
<g id="n-apop-2"><rect class="gd" x="721.7" y="1208.3" width="47.3" height="19.4" rx="2.5"/><text class="tg" x="745.35" y="1219.5">APOPTOSIS</text><use href="#rate" x="733.3" y="1208.3"/><use href="#xs" x="757" y="1208.3"/></g>
<g id="n-icf-pp-1"><rect class="pk" x="812.3" y="1160" width="36" height="22.3" rx="2"/><text class="tw" x="830.3" y="1165.55"><tspan class="k">Intracellular Fluid</tspan><tspan x="830.3" dy="4.6">in Pericyte_Pool</tspan><tspan x="830.3" dy="4.6">in Capillary_Wall</tspan><tspan x="830.3" dy="4.6">in Capillary_Space</tspan></text></g>
<g id="n-caspase"><rect class="gd" x="795" y="1201.7" width="46.7" height="20" rx="2.5"/><text class="tg" x="818.35" y="1210.7">CASPASE<tspan x="818.35" dy="5">ACTIVATION</tspan></text><use href="#rate" x="806.7" y="1201.7"/><use href="#xs" x="830.3" y="1201.7"/></g>
<g id="n-icf-pp-2"><rect class="pk" x="875" y="1153.3" width="36.7" height="22.7" rx="2"/><text class="tw" x="893.35" y="1159.05"><tspan class="k">Intracellular Fluid</tspan><tspan x="893.35" dy="4.6">in Pericyte_Pool</tspan><tspan x="893.35" dy="4.6">in Capillary_Wall</tspan><tspan x="893.35" dy="4.6">in Capillary_Space</tspan></text></g>
<g id="n-ros-2"><rect class="gd" x="858.3" y="1194.3" width="46.7" height="20.7" rx="2.5"/><text class="tg" x="881.65" y="1203.65">ROS<tspan x="881.65" dy="5">GENERATION</tspan></text><use href="#rate" x="870" y="1194.3"/><use href="#xs" x="892.7" y="1194.3"/></g>
<g id="n-cs-7"><rect class="pk" x="1176.7" y="1099" width="35" height="6" rx="3"/><text class="tw" x="1194.2" y="1103.3">Capillary_Space</text></g>
<g id="n-hypoxia-2"><rect class="wt" x="1164.3" y="1121.7" width="40" height="20" rx="2.5"/><text class="tp" x="1184.3" y="1133.5">HYPOXIA</text><use href="#hs" x="1173.3" y="1121.7"/><use href="#xs" x="1194.2" y="1121.7"/></g>

<!-- magnified view of the macula capillary module -->
<rect x="872" y="229" width="948" height="828" fill="#dbf9f7" filter="url(#sh)"/>
<g id="inset" clip-path="url(#ic)">
<rect x="872" y="229" width="948" height="828" fill="#dbf9f7"/>
<rect x="889" y="559" width="990" height="600" rx="8" fill="#dce6f8" stroke="#fff" stroke-width="8"/>
<rect x="925.5" y="583.5" width="534" height="461" rx="8" fill="#dbf6ea" stroke="#fff" stroke-width="8"/>
<rect x="1483.5" y="680.5" width="315.5" height="364" rx="8" fill="#dbf6ea" stroke="#fff" stroke-width="8"/>
<g id="inset-connectors">
<path class="il" d="M872,291.5H967.5"/>
<path class="il iA" d="M967.5,268V436.5"/>
<path class="il iA" d="M1053,396V436.5"/>
<path class="il" d="M1142,229V678.5H1271"/>
<path class="il iA" d="M1222.7,281V436.5"/>
<path class="il iO" d="M1300,229V303H1222.7"/>
<path class="il iA" d="M1308,396V436.5"/>
<path class="il iA" d="M1271,633V900.3"/>
<path class="il" d="M1271,656.7H1820"/>
<path class="il iO" d="M1271,728H1028"/>
<path class="il iA" d="M1028,705.7V925"/>
<path class="il" d="M1028,752.7H961.5V1057"/>
<path class="il iA" d="M1114,876.7V921"/>
<path class="il iA" d="M1356,853.3V896.3"/>
<path class="il iA" d="M1609.6,730.3V925"/>
<path class="il" d="M1609.6,752.7H1531V1057"/>
<path class="il iA" d="M1695.5,876.7V921"/>
</g>
<g id="inset-junctions" fill="#000">
<circle cx="967.5" cy="291.5" r="8"/><circle cx="1271" cy="656.7" r="8"/><circle cx="1271" cy="678.5" r="8"/><circle cx="1271" cy="728" r="8"/><circle cx="1028" cy="752.7" r="8"/><circle cx="1609.6" cy="752.7" r="8"/>
</g>
<use id="it1" href="#tl" x="967.5" y="255.5"/>
<use id="it2" href="#tl" x="1222.7" y="268.3"/>
<use id="ii1" href="#incl" x="1271" y="620"/>
<use id="ii2" href="#incl" x="1028" y="692.7"/>
<use id="ii3" href="#incl" x="1609.6" y="717.3"/>
<g id="i-cs-1"><rect class="ipk" x="992" y="335" width="122" height="61" rx="10"/><text class="itw" x="1053" y="353"><tspan class="ik">Capillary_Space</tspan><tspan x="1053" dy="17.8">in Macula</tspan><tspan x="1053" dy="17.8">in Eye</tspan></text></g>
<g id="i-hypoxia"><rect class="iwt" x="926" y="450" width="170" height="74" rx="11"/><text class="itph" x="1009" y="493">HYPOXIA</text><use href="#hl" x="965.7" y="449.5"/><use href="#xl" x="1053" y="449.5"/></g>
<g id="i-cs-2"><rect class="ipk" x="1247" y="335" width="122" height="61" rx="10"/><text class="itw" x="1308" y="353"><tspan class="ik">Capillary_Space</tspan><tspan x="1308" dy="17.8">in Macula</tspan><tspan x="1308" dy="17.8">in Eye</tspan></text></g>
<g id="i-hemorrhage"><rect class="iwt" x="1180" y="450" width="170" height="74" rx="11"/><text class="itph" x="1264" y="493">HEMORRHAGE</text><use href="#hl" x="1221.5" y="449.5"/><use href="#xl" x="1307.3" y="449.5"/></g>
<g id="i-endo-1"><rect class="ipk" x="1041.3" y="773.3" width="145" height="103.4" rx="10"/><text class="itn" x="1113.8" y="793.5"><tspan class="idk">Endothelial Cell Pool</tspan><tspan class="idk" x="1113.8" dy="18.3">in Capillary_Wall</tspan><tspan class="idk" x="1113.8" dy="18.3">in Capillary_Space</tspan><tspan x="1113.8" dy="18.3">in Macula</tspan><tspan x="1113.8" dy="18.3">in Eye</tspan></text></g>
<g id="i-vegf"><rect class="igd" x="987" y="935" width="169" height="73.3" rx="11"/><text class="itg" x="1070.3" y="967.5">VEGF<tspan x="1070.3" dy="21">EXPRESSION</tspan></text><use href="#ratel" x="1028" y="934"/><use href="#xl" x="1113.8" y="934"/></g>
<g id="i-endo-2"><rect class="ipk" x="1283" y="749.3" width="146.4" height="104" rx="10"/><text class="itn" x="1356.2" y="769.3"><tspan class="idk">Endothelial Cell Pool</tspan><tspan class="idk" x="1356.2" dy="18.3">in Capillary_Wall</tspan><tspan class="idk" x="1356.2" dy="18.3">in Capillary_Space</tspan><tspan x="1356.2" dy="18.3">in Macula</tspan><tspan x="1356.2" dy="18.3">in Eye</tspan></text></g>
<g id="i-prolif"><rect class="igd" x="1228.7" y="910" width="169.3" height="74" rx="11"/><text class="itg" x="1313.4" y="952.5">PROLIFERATION</text><use href="#ratel" x="1271" y="909.3"/><use href="#xl" x="1355.7" y="909.3"/></g>
<g id="i-pericyte"><rect class="ipk" x="1629" y="773.3" width="133" height="103.4" rx="10"/><text class="itn" x="1695.5" y="793.5"><tspan class="idk">Pericyte_Pool</tspan><tspan class="idk" x="1695.5" dy="18.3">in Capillary_Wall</tspan><tspan class="idk" x="1695.5" dy="18.3">in Capillary_Space</tspan><tspan x="1695.5" dy="18.3">in Macula</tspan><tspan x="1695.5" dy="18.3">in Eye</tspan></text></g>
<g id="i-apop"><rect class="igd" x="1568.5" y="935" width="169.3" height="73.3" rx="11"/><text class="itg" x="1653" y="977.5">APOPTOSIS</text><use href="#ratel" x="1609.6" y="934"/><use href="#xl" x="1695.5" y="934"/></g>
</g>

<g id="credit"><text x="1314" y="1163" font-size="64" fill="#000">Joint work with</text><text x="1314" y="1240" font-size="64" fill="#000">Bernard de Bono</text></g>
</svg>
